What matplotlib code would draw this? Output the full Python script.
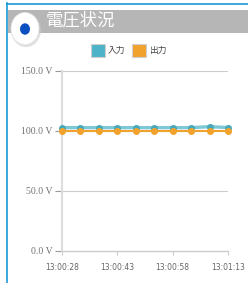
import matplotlib
matplotlib.use("Agg")
import matplotlib.pyplot as plt
from matplotlib.patches import Rectangle, Circle
import numpy as np

plt.rcParams['font.family'] = ['Noto Sans CJK JP', 'DejaVu Sans']

# Data
title = "電圧状況"
series_names = ["入力", "出力"]
times = ["13:00:28", "13:00:33", "13:00:38", "13:00:43", "13:00:48",
         "13:00:53", "13:00:58", "13:01:03", "13:01:08", "13:01:13"]
input_v = [102.8, 102.8, 102.8, 102.8, 102.8, 102.8, 102.8, 102.8, 103.6, 102.9]
output_v = [100.0, 100.0, 100.0, 100.0, 100.0, 100.0, 100.0, 100.0, 100.0, 100.0]
tick_labels = ["13:00:28", "13:00:43", "13:00:58", "13:01:13"]
y_ticks = [0, 50, 100, 150]

W, H = 248, 283
fig = plt.figure(figsize=(W / 100, H / 100), dpi=100)
fig.patch.set_facecolor('white')

def fx(px):
    return px / W

def fy(py):
    return 1 - py / H

# Border lines
fig.add_artist(plt.Line2D([fx(7), fx(7)], [fy(3), fy(283)], color='#1a9ad6', lw=1.2))
fig.add_artist(plt.Line2D([fx(7), fx(248)], [fy(3.5), fy(3.5)], color='#1a9ad6', lw=1.2))

# Header bar
fig.add_artist(Rectangle((fx(8), fy(33)), fx(240), (33 - 10) / H,
                         transform=fig.transFigure, facecolor='#b6b6b6', edgecolor='none'))
# Icon circle with shadow
sh = Circle((fx(26), fy(30)), 15 / W, transform=fig.transFigure,
            facecolor='#cccccc', edgecolor='none', alpha=0.6)
fig.add_artist(sh)
c = Circle((fx(25), fy(28.5)), 14 / W, transform=fig.transFigure,
           facecolor='white', edgecolor='#e6e6e6', lw=0.5)
fig.add_artist(c)
dot = Circle((fx(25), fy(29)), 5 / W, transform=fig.transFigure,
             facecolor='#0b4fc0', edgecolor='none')
fig.add_artist(dot)
fig.text(fx(46), fy(20.5), title, color='white', fontsize=12.5, ha='left', va='center',
         family=['Noto Sans CJK JP', 'DejaVu Sans'])

# Legend
teal = '#4db3c8'
orange = '#f0a22c'
fig.add_artist(Rectangle((fx(91), fy(57)), 14 / W, 13 / H, transform=fig.transFigure,
                         facecolor=teal, edgecolor='#cfcfcf', lw=0.8))
fig.text(fx(108), fy(50.5), series_names[0], fontsize=6.3, color='#444444',
         ha='left', va='center')
fig.add_artist(Rectangle((fx(132), fy(57)), 14 / W, 13 / H, transform=fig.transFigure,
                         facecolor=orange, edgecolor='#cfcfcf', lw=0.8))
fig.text(fx(149), fy(50.5), series_names[1], fontsize=6.3, color='#444444',
         ha='left', va='center')

# Axes
ax = fig.add_axes([fx(62), fy(251), (228 - 62) / W, (251 - 71) / H])
x = np.arange(len(times))
ax.plot(x, input_v, color='#7cc8d6', lw=2.4, marker='o', ms=4, mfc='#45a9bb',
        mec='#45a9bb', zorder=3, clip_on=False)
ax.plot(x, output_v, color=orange, lw=1.5, marker='o', ms=4, zorder=4,
        clip_on=False)
ax.set_xlim(0, len(times) - 1)
ax.set_ylim(0, 150)
ax.set_yticks(y_ticks)
ax.set_yticklabels([f"{v:.1f} V" for v in y_ticks], family='Liberation Serif',
                   fontsize=7, color='#707070')
tick_pos = [times.index(t) for t in tick_labels]
ax.set_xticks(tick_pos)
ax.set_xticklabels(tick_labels, fontsize=5.5, color='#666666',
                   family='DejaVu Sans')
for yv in [50, 100, 150]:
    ax.axhline(yv, color='#cccccc', lw=0.8, zorder=1)
for s in ['top', 'right']:
    ax.spines[s].set_visible(False)
ax.spines['left'].set_color('#dddddd')
ax.spines['left'].set_linewidth(1.5)
ax.spines['bottom'].set_color('#cccccc')
ax.spines['bottom'].set_linewidth(1)
ax.tick_params(axis='y', length=5, color='#999999', width=0.8, pad=2)
ax.tick_params(axis='x', length=3, color='#cccccc', width=0.8, pad=6)
ax.set_facecolor('white')

fig.savefig('out.png', dpi=100)
